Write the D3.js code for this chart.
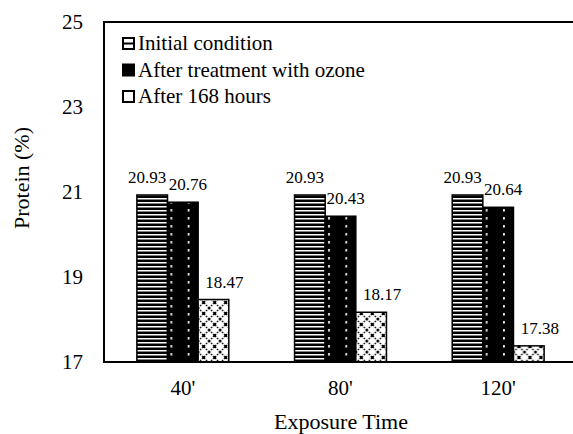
<!DOCTYPE html>
<html>
<head>
<meta charset="utf-8">
<script src="https://cdn.jsdelivr.net/npm/d3@7"></script>
<style>
  body { margin: 0; background: #fff; }
  svg text { font-family: "Liberation Serif", "Times New Roman", "DejaVu Serif", serif !important; fill: #000; }
</style>
</head>
<body>
<div id="chart"></div>
<script>
// Daten
const categories = ["40'", "80'", "120'"];
const seriesNames = ["Initial condition", "After treatment with ozone", "After 168 hours"];
const initialValues = [20.93, 20.93, 20.93];
const ozoneValues = [20.76, 20.43, 20.64];
const after168Values = [18.47, 18.17, 17.38];
const yTicks = [17, 19, 21, 23, 25];

const allSeries = [initialValues, ozoneValues, after168Values];
const fills = ["url(#pInit)", "url(#pOzone)", "url(#p168)"];
const labelDx = [-5, 5, 11];

const width = 573, height = 434;
const margin = { left: 104, right: -4, top: 22, bottom: 72 };

const svg = d3.select("#chart")
  .append("svg")
  .attr("width", width)
  .attr("height", height)
  .attr("font-family", "Liberation Serif, serif");

// Muster
const defs = svg.append("defs");

const p1 = defs.append("pattern").attr("id", "pInit")
  .attr("patternUnits", "userSpaceOnUse").attr("width", 8).attr("height", 4);
p1.append("rect").attr("width", 8).attr("height", 4).attr("fill", "#000");
p1.append("rect").attr("y", 2).attr("width", 8).attr("height", 1.5).attr("fill", "#fff");

const p2 = defs.append("pattern").attr("id", "pOzone")
  .attr("patternUnits", "userSpaceOnUse").attr("width", 17.3).attr("height", 8);
p2.append("rect").attr("width", 17.3).attr("height", 8).attr("fill", "#000");
p2.append("rect").attr("x", 3).attr("y", 1).attr("width", 1.6).attr("height", 2.6).attr("fill", "#fff");

const p3 = defs.append("pattern").attr("id", "p168")
  .attr("patternUnits", "userSpaceOnUse").attr("width", 11).attr("height", 11);
p3.append("rect").attr("width", 11).attr("height", 11).attr("fill", "#fff");
p3.append("path").attr("d", "M0,0L11,11M11,0L0,11")
  .attr("stroke", "#000").attr("stroke-width", 1.4).attr("stroke-dasharray", "1.6,1.2");
p3.append("rect").attr("x", 4).attr("y", 4).attr("width", 3).attr("height", 3).attr("fill", "#000");

// Skalen
const x0 = d3.scaleBand()
  .domain(categories)
  .range([margin.left, width - margin.right])
  .paddingInner(0.417)
  .paddingOuter(0.2085);

const x1 = d3.scaleBand()
  .domain(d3.range(seriesNames.length))
  .range([0, x0.bandwidth()]);

const y = d3.scaleLinear()
  .domain([17, 25])
  .range([height - margin.bottom, margin.top]);

// Balken
categories.forEach((c, ci) => {
  allSeries.forEach((vals, si) => {
    const bx = x0(c) + x1(si);
    const g = svg.append("g").attr("transform", `translate(${bx},0)`);
    g.append("rect")
      .attr("x", 0)
      .attr("y", y(vals[ci]))
      .attr("width", x1.bandwidth())
      .attr("height", y(17) - y(vals[ci]))
      .attr("fill", fills[si])
      .attr("stroke", "#000")
      .attr("stroke-width", 1.5);
    svg.append("text")
      .attr("x", bx + x1.bandwidth() / 2 + labelDx[si])
      .attr("y", y(vals[ci]) - 12)
      .attr("text-anchor", "middle")
      .style("font-size", "17px")
      .text(vals[ci].toFixed(2));
  });
});

// Achsenlinien (oben, links, unten)
const yTop = y(25), yBot = y(17);
svg.append("path")
  .attr("d", `M${width + 5},${yTop}H${margin.left}V${yBot}H${width + 5}`)
  .attr("fill", "none")
  .attr("stroke", "#000")
  .attr("stroke-width", 2);

// Y-Achse Beschriftung
const yAxis = d3.axisLeft(y).tickValues(yTicks).tickSize(0).tickPadding(21);
const gy = svg.append("g").attr("transform", `translate(${margin.left},0)`).call(yAxis);
gy.attr("font-family", null);
gy.select(".domain").remove();
gy.selectAll("text").style("font-size", "21px");

// X-Achse Beschriftung
const xAxis = d3.axisBottom(x0).tickSize(0).tickPadding(18);
const gx = svg.append("g").attr("transform", `translate(0,${yBot})`).call(xAxis);
gx.attr("font-family", null);
gx.select(".domain").remove();
gx.selectAll("text").style("font-size", "21px");

// Achsentitel
svg.append("text")
  .attr("x", 341)
  .attr("y", 429)
  .attr("text-anchor", "middle")
  .style("font-size", "22px")
  .text("Exposure Time");

svg.append("text")
  .attr("transform", "translate(29,178) rotate(-90)")
  .attr("text-anchor", "middle")
  .style("font-size", "22px")
  .text("Protein (%)");

// Legende
const legend = svg.append("g").attr("transform", "translate(123,43)");
seriesNames.forEach((name, i) => {
  const row = legend.append("g").attr("transform", `translate(0,${i * 26.5})`);
  row.append("rect")
    .attr("x", 0).attr("y", -5)
    .attr("width", 11).attr("height", 11)
    .attr("fill", "#fff").attr("stroke", "#000").attr("stroke-width", 2);
  if (i === 0) {
    row.append("line").attr("x1", 0).attr("x2", 11).attr("y1", 0.5).attr("y2", 0.5)
      .attr("stroke", "#000").attr("stroke-width", 2);
  } else if (i === 1) {
    row.select("rect").attr("fill", "#000");
  } else {
    row.append("rect").attr("x", 2).attr("y", -3).attr("width", 7).attr("height", 7)
      .attr("fill", "#fff");
  }
  row.append("text")
    .attr("x", 15)
    .attr("y", 7)
    .style("font-size", "21px")
    .text(name);
});
</script>
</body>
</html>
